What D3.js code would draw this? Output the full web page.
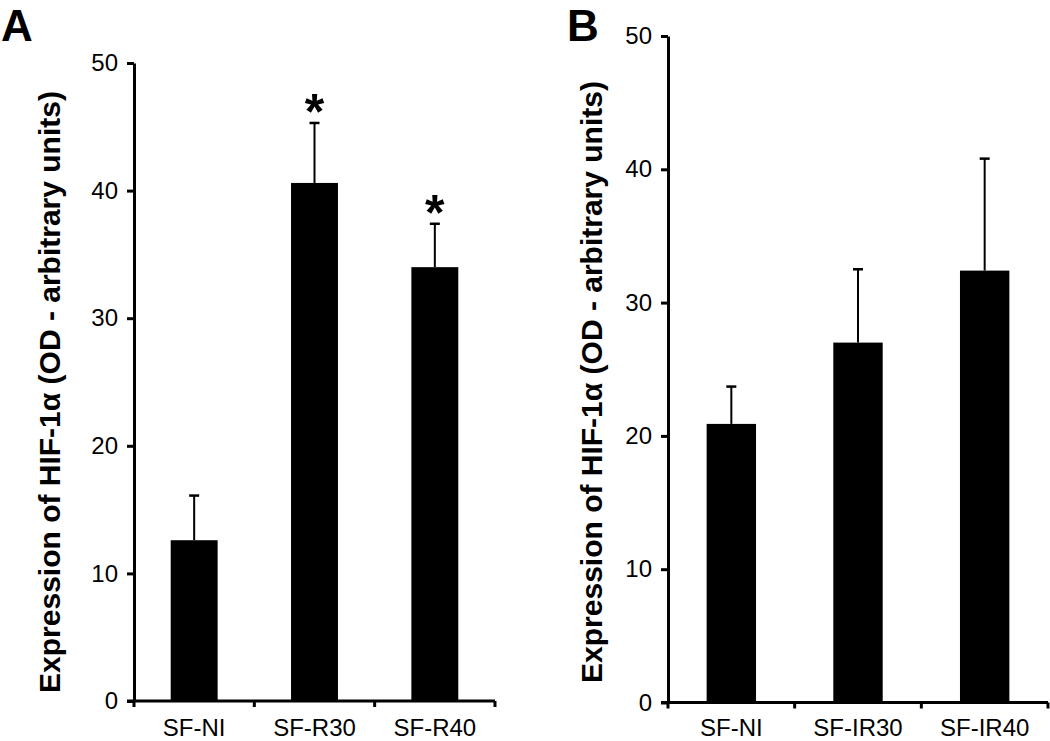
<!DOCTYPE html>
<html>
<head>
<meta charset="utf-8">
<script src="https://cdn.jsdelivr.net/npm/d3@7"></script>
<style>
  body { margin: 0; background: white; }
  svg text { font-family: "Liberation Sans", Arial, sans-serif; }
</style>
</head>
<body>
<script>
// panel A data
var catsA = ["SF-NI", "SF-R30", "SF-R40"];
var meanA = [12.6, 40.6, 34.0];
var errA = [3.5, 4.7, 3.4];
var starA = [false, true, true];

// panel B data
var catsB = ["SF-NI", "SF-IR30", "SF-IR40"];
var meanB = [20.9, 27.0, 32.4];
var errB = [2.8, 5.5, 8.4];
var starB = [false, false, false];

var yTicks = [0, 10, 20, 30, 40, 50];
var yTitle = "Expression of HIF-1\u03b1 (OD - arbitrary units)";

var width = 1050, height = 741;
var svg = d3.select("body").append("svg")
    .attr("width", width)
    .attr("height", height)
    .style("background", "white");

function drawPanel(opt){
    let x = d3.scaleBand()
        .domain(opt.cats)
        .range([opt.x0, opt.x1])
        .paddingInner(0.61)
        .paddingOuter(0.305);
    let y = d3.scaleLinear().domain([0, 50]).range([opt.y0, opt.y1]);
    let step = x.step();

    // bars
    svg.selectAll("rect.bar" + opt.name)
        .data(opt.cats)
        .enter()
        .append("rect")
        .attr("x", d => x(d))
        .attr("width", x.bandwidth())
        .attr("y", (d, i) => y(opt.mean[i]))
        .attr("height", (d, i) => y(0) - y(opt.mean[i]))
        .style("fill", "black");

    // error bars (upper only)
    let g = svg.append("g");
    opt.cats.forEach((c, i) => {
        let cx = x(c) + x.bandwidth() / 2;
        let top = y(opt.mean[i] + opt.err[i]);
        g.append("line")
            .attr("x1", cx).attr("x2", cx)
            .attr("y1", y(opt.mean[i])).attr("y2", top)
            .style("stroke", "black").style("stroke-width", 2);
        g.append("line")
            .attr("x1", cx - 5).attr("x2", cx + 5)
            .attr("y1", top).attr("y2", top)
            .style("stroke", "black").style("stroke-width", 2.5);
        if(opt.star[i]){
            g.append("text")
                .attr("x", cx)
                .attr("y", top + 6)
                .attr("text-anchor", "middle")
                .style("font-size", "50px")
                .style("font-weight", "bold")
                .text("*");
        }
    });

    // y axis
    let yAxis = svg.append("g")
        .attr("transform", "translate(" + opt.x0 + ",0)")
        .call(d3.axisLeft(y).tickValues(yTicks).tickSize(7).tickSizeOuter(0).tickPadding(9));
    yAxis.select(".domain").style("stroke-width", 3);
    yAxis.selectAll(".tick line").style("stroke-width", 3);
    yAxis.selectAll(".tick text").style("font-size", "24px").attr("fill", "black");

    // x axis: ticks at band edges, labels at band centres
    let xAxis = svg.append("g")
        .attr("transform", "translate(0," + opt.y0 + ")");
    xAxis.append("line")
        .attr("x1", opt.x0 - 7).attr("x2", opt.x1)
        .style("stroke", "black").style("stroke-width", 3);
    let edges = d3.range(opt.cats.length + 1).map(k => opt.x0 + k * step);
    xAxis.selectAll("line.tk")
        .data(edges)
        .enter()
        .append("line")
        .attr("x1", d => d).attr("x2", d => d)
        .attr("y1", 0).attr("y2", 6)
        .style("stroke", "black").style("stroke-width", 3);
    xAxis.selectAll("text")
        .data(opt.cats)
        .enter()
        .append("text")
        .attr("x", d => x(d) + x.bandwidth() / 2)
        .attr("y", 736 - opt.y0)
        .attr("text-anchor", "middle")
        .style("font-size", "24px")
        .text(d => d);

    // y title
    svg.append("text")
        .attr("transform", "translate(" + opt.tx + "," + opt.ty + ") rotate(-90)")
        .attr("text-anchor", "middle")
        .style("font-size", "30px")
        .style("font-weight", "bold")
        .text(yTitle);

    // panel letter
    svg.append("text")
        .attr("x", opt.lx)
        .attr("y", opt.ly)
        .style("font-size", "44px")
        .style("font-weight", "bold")
        .text(opt.name);
}

drawPanel({name: "A", cats: catsA, mean: meanA, err: errA, star: starA,
    x0: 134, x1: 495, y0: 701, y1: 63, tx: 60, ty: 392, lx: 1, ly: 41});
drawPanel({name: "B", cats: catsB, mean: meanB, err: errB, star: starB,
    x0: 668, x1: 1048, y0: 702.5, y1: 36, tx: 602, ty: 382, lx: 567, ly: 41});
</script>
</body>
</html>
